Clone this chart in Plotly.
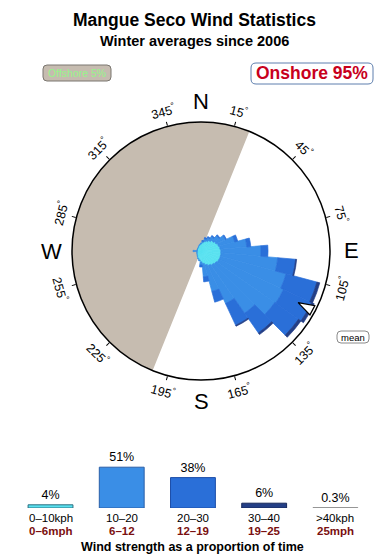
import numpy as np
import plotly.graph_objects as go

# ---------------- data ----------------
directions = list(range(0, 360, 10))  # sector centres (deg)
# cumulative outer radius of each speed band per direction (chart radial units, circle = 129)
cum_0_10 = [7, 8.5, 10, 11.3, 13, 15, 16.5, 18, 19, 19.8, 20, 20, 19.7, 18.5, 17.5, 16.2, 14.5, 12.7,
            10.9, 9, 8, 6.7, 5.7, 5, 4.6, 4.2, 4, 3.8, 3.8, 3.8, 3.9, 4.1, 4.4, 4.7, 5.5, 6.2]
cum_10_20 = [8, 10, 13, 15, 18, 22, 27, 35, 46, 60, 77, 88, 91, 90, 76, 58, 42, 26,
             14, 10, 8.5, 7, 6, 5.2, 4.8, 4.4, 4.2, 8, 4, 4, 4.1, 4.3, 4.6, 5, 5.8, 6.6]
cum_20_30 = [8, 10.5, 14, 16, 19, 23, 28, 38, 50, 67, 95, 120, 122, 119, 100, 82, 53, 31,
             16, 10, 8.5, 7, 6, 5.2, 4.8, 4.4, 4.2, 8, 4, 4, 4.1, 4.3, 4.6, 5, 5.8, 6.6]
cum_30_40 = [8, 10.5, 14, 16, 19, 23, 28, 38, 50, 67, 96, 123, 125, 122, 102, 83, 53, 31,
             16, 10, 8.5, 7, 6, 5.2, 4.8, 4.4, 4.2, 8, 4, 4, 4.1, 4.3, 4.6, 5, 5.8, 6.6]
rose_max = 129

offshore_from, offshore_to = 202, 22      # offshore sector (clockwise from -> to, via west)
mean_direction = 118
offshore_pct, onshore_pct = 5, 95

deg_ticks = [15, 45, 75, 105, 135, 165, 195, 225, 255, 285, 315, 345]
cardinals = {"N": 0, "E": 90, "S": 180, "W": 270}

speed_kph = ["0–10kph", "10–20", "20–30", "30–40", ">40kph"]
speed_mph = ["0–6mph", "6–12", "12–19", "19–25", "25mph"]
speed_pct = [4, 51, 38, 6, 0.3]

# ---------------- styling ----------------
W, H = 390, 560
CX, CY, R = 201, 251, 129
FONT = "Liberation Sans, Arial, sans-serif"
c_cyan, c_light, c_dark, c_navy = "#5ae2f0", "#3a8ee6", "#2a6fd8", "#243f86"
c_off = "#c6bcb0"


def px(x):
    return x / W


def py(y):
    return 1 - y / H


fig = go.Figure()

# offshore semicircle
off_width = (offshore_to - offshore_from) % 360
off_centre = (offshore_from + off_width / 2) % 360
fig.add_trace(go.Barpolar(r=[rose_max], theta=[off_centre], width=[off_width],
                          marker=dict(color=c_off, line=dict(width=0)), hoverinfo="skip"))

# rose bands (stacked increments)
bands = [cum_0_10, cum_10_20, cum_20_30, cum_30_40]
cols = [c_cyan, c_light, c_dark, c_navy]
prev = np.zeros(len(directions))
for b, col in zip(bands, cols):
    arr = np.array(b, dtype=float)
    fig.add_trace(go.Barpolar(r=arr - prev, theta=directions, width=[10] * len(directions),
                              marker=dict(color=col, line=dict(width=0.7, color=col)),
                              hoverinfo="skip"))
    prev = arr

# mean arrow
fig.add_trace(go.Scatterpolar(r=[110], theta=[mean_direction], mode="markers",
                              marker=dict(symbol="arrow", size=17, color="white",
                                          angle=(mean_direction + 180) % 360,
                                          line=dict(color="black", width=1.2)),
                              hoverinfo="skip"))

# speed bars
bar_cols = [c_cyan, c_light, c_dark, c_navy, "#a0a0a0"]
bar_lines = ["#2b6f80", "#2a5fa8", "#1d4ea8", "#16285a", "#8a8a8a"]
fig.add_trace(go.Bar(x=list(range(len(speed_pct))), y=speed_pct, width=0.63,
                     marker=dict(color=bar_cols, line=dict(color=bar_lines, width=1)),
                     text=[f"{v:g}%" for v in speed_pct], textposition="outside",
                     textfont=dict(family=FONT, size=12.5, color="black"),
                     cliponaxis=False, hoverinfo="skip", xaxis="x", yaxis="y"))

ann = []
ann.append(dict(x=px(194), y=py(20), text="<b>Mangue Seco Wind Statistics</b>",
                font=dict(family=FONT, size=17.5, color="black")))
ann.append(dict(x=px(194), y=py(41), text="<b>Winter averages since 2006</b>",
                font=dict(family=FONT, size=14.5, color="black")))
ann.append(dict(x=px(77), y=py(73), text=f"Offshore {offshore_pct}%",
                font=dict(family=FONT, size=10.5, color="#96f58a")))
ann.append(dict(x=px(312), y=py(73.5), text=f"<b>Onshore {onshore_pct}%</b>",
                font=dict(family=FONT, size=17.5, color="#c8001c")))
ann.append(dict(x=px(353), y=py(337), text="mean",
                font=dict(family=FONT, size=9.5, color="black")))

for lab, b in cardinals.items():
    rad = np.deg2rad(b)
    ann.append(dict(x=px(CX + 150 * np.sin(rad)), y=py(CY - 150 * np.cos(rad)), text=lab,
                    font=dict(family=FONT, size=22, color="black")))

for b in deg_ticks:
    rad = np.deg2rad(b)
    ta = b if b < 90 else (b - 180 if b < 270 else b - 360)
    ann.append(dict(x=px(CX + 145 * np.sin(rad)), y=py(CY - 145 * np.cos(rad)),
                    text=f"{b}<sup>°</sup>", textangle=ta,
                    font=dict(family=FONT, size=12.5, color="black")))

for i, (k, m) in enumerate(zip(speed_kph, speed_mph)):
    ann.append(dict(x=i, xref="x", y=py(517.5), text=k, borderpad=0,
                    font=dict(family=FONT, size=11.5, color="black")))
    ann.append(dict(x=i, xref="x", y=py(531), text=f"<b>{m}</b>", borderpad=0,
                    font=dict(family=FONT, size=11.5, color="#7a1010")))

ann.append(dict(x=px(192.5), y=py(547), text="<b>Wind strength as a proportion of time</b>",
                font=dict(family=FONT, size=12.5, color="black")))

for a in ann:
    a.setdefault("xref", "paper")
    a.setdefault("yref", "paper")
    a.update(showarrow=False, xanchor="center", yanchor="middle")


def rrect(x0, y0, x1, y1, r):
    return (f"M {px(x0 + r)},{py(y0)} L {px(x1 - r)},{py(y0)} Q {px(x1)},{py(y0)} {px(x1)},{py(y0 + r)} "
            f"L {px(x1)},{py(y1 - r)} Q {px(x1)},{py(y1)} {px(x1 - r)},{py(y1)} "
            f"L {px(x0 + r)},{py(y1)} Q {px(x0)},{py(y1)} {px(x0)},{py(y1 - r)} "
            f"L {px(x0)},{py(y0 + r)} Q {px(x0)},{py(y0)} {px(x0 + r)},{py(y0)} Z")


shapes = [
    dict(type="path", xref="paper", yref="paper", path=rrect(43, 65, 111, 81, 4),
         fillcolor=c_off, line=dict(color="#7a7670", width=1), layer="below"),
    dict(type="path", xref="paper", yref="paper", path=rrect(251, 63, 373, 84, 5),
         fillcolor="white", line=dict(color="#5f7fae", width=1), layer="below"),
    dict(type="path", xref="paper", yref="paper", path=rrect(337, 331, 369, 343, 4),
         fillcolor="white", line=dict(color="#8a8a8a", width=1), layer="below"),
]

fig.update_layout(
    width=W, height=H, margin=dict(l=0, r=0, t=0, b=0),
    paper_bgcolor="white", plot_bgcolor="white", showlegend=False,
    font=dict(family=FONT),
    polar=dict(
        domain=dict(x=[px(CX - R), px(CX + R)], y=[py(CY + R), py(CY - R)]),
        bgcolor="white", barmode="stack", bargap=0, hole=0,
        radialaxis=dict(visible=False, range=[0, rose_max]),
        angularaxis=dict(direction="clockwise", rotation=90, showgrid=False,
                         showticklabels=False, ticks="outside", ticklen=4, tickwidth=1,
                         tickcolor="black", tickmode="array", tickvals=deg_ticks,
                         showline=True, linecolor="black", linewidth=1.5),
    ),
    xaxis=dict(domain=[px(14.9), px(371)], range=[-0.5, 4.5], visible=False, fixedrange=True),
    yaxis=dict(domain=[py(508), py(448)], range=[0, 75], visible=False, fixedrange=True),
    annotations=ann, shapes=shapes,
)

fig.write_html("out.html")
